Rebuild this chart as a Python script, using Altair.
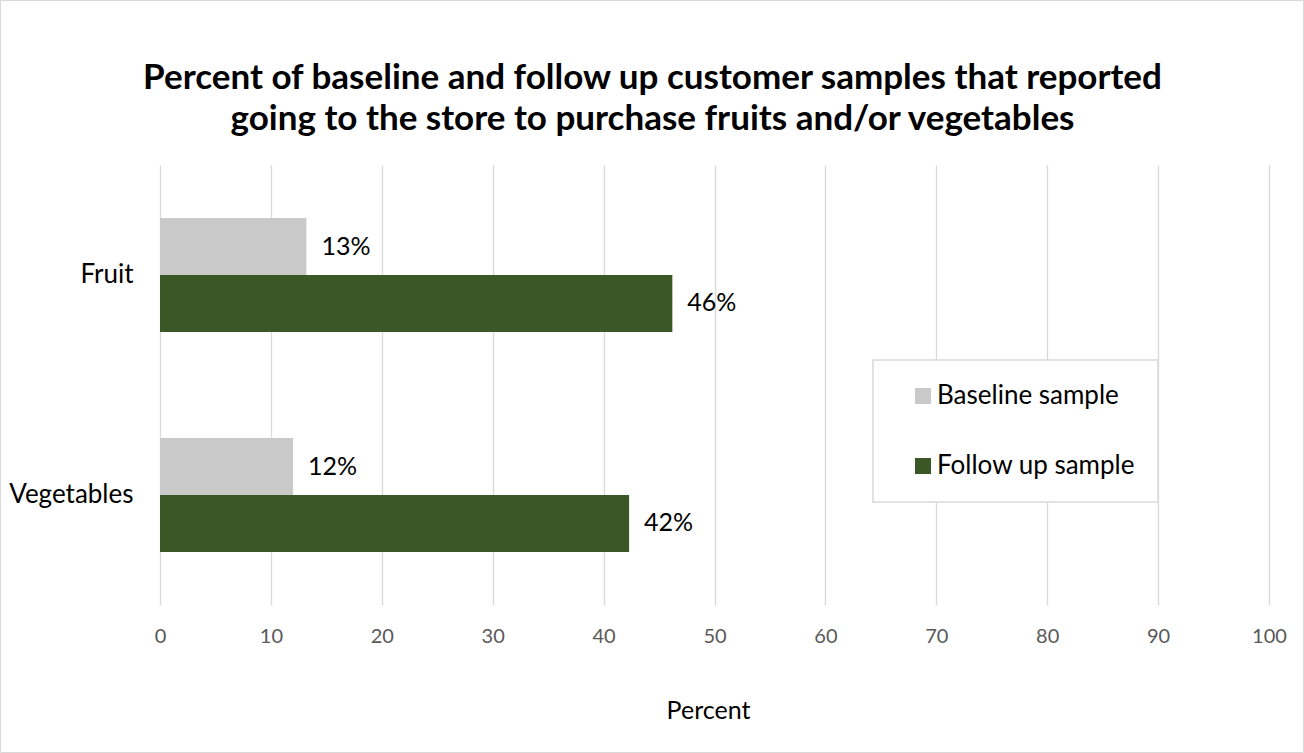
import altair as alt
import pandas as pd

FONT = "Lato"

categories = ["Fruit", "Vegetables"]
series = ["Baseline sample", "Follow up sample"]
baseline = [13.2, 12.0]
follow_up = [46.2, 42.3]
labels_base = ["13%", "12%"]
labels_follow = ["46%", "42%"]
x_ticks = [0, 10, 20, 30, 40, 50, 60, 70, 80, 90, 100]
colors = ["#c9c9c9", "#3b5725"]
title_lines = [
    "Percent of baseline and follow up customer samples that reported",
    "going to the store to purchase fruits and/or vegetables",
]

rows = []
for i, c in enumerate(categories):
    rows.append(dict(category=c, series=series[0], value=baseline[i], label=labels_base[i]))
    rows.append(dict(category=c, series=series[1], value=follow_up[i], label=labels_follow[i]))
df = pd.DataFrame(rows)

y = alt.Y(
    "category:N",
    sort=categories,
    scale=alt.Scale(paddingInner=0.482, paddingOuter=0.241),
    axis=alt.Axis(
        title=None, ticks=False, domain=False, grid=False,
        labelPadding=27, labelFontSize=26, labelColor="#000000", labelFont=FONT,
    ),
)
yoff = alt.YOffset("series:N", sort=series, scale=alt.Scale(paddingInner=0, paddingOuter=0))
x = alt.X(
    "value:Q",
    scale=alt.Scale(domain=[0, 100], nice=False),
    axis=alt.Axis(
        values=x_ticks, title="Percent", grid=True, gridColor="#d9d9d9", gridWidth=1.3,
        ticks=False, domain=False, labelPadding=21, labelFontSize=20, labelColor="#595959",
        labelFlush=False, labelFont=FONT, titleFont=FONT, titleFontSize=25,
        titleFontWeight="normal", titleColor="#000000", titlePadding=52, titleX=548,
    ),
)
color = alt.Color(
    "series:N",
    sort=series,
    scale=alt.Scale(domain=series, range=colors),
    legend=alt.Legend(
        title=None, orient="none", legendX=713, legendY=195, padding=23,
        strokeColor="#d9d9d9", fillColor="white",
        symbolType="square", symbolSize=256, symbolStrokeWidth=0, symbolOffset=14,
        labelFontSize=26, labelFont=FONT, labelColor="#000000", labelOffset=1,
        rowPadding=44, labelLimit=400,
    ),
)

base = alt.Chart(df)
bars = base.mark_bar().encode(x=x, y=y, yOffset=yoff, color=color)
texts = base.mark_text(align="left", baseline="middle", dx=15, fontSize=25, font=FONT, color="#000000").encode(
    x=alt.X("value:Q"), y=alt.Y("category:N", sort=categories), yOffset=alt.YOffset("series:N", sort=series), text="label:N"
)
border = alt.Chart(pd.DataFrame({"a": [0]})).mark_rect(fill=None, stroke="#d9d9d9", strokeWidth=1).encode(
    x=alt.value(-159.5), x2=alt.value(1143.5), y=alt.value(-164.5), y2=alt.value(587.5)
)

chart = alt.layer(border, bars, texts).properties(
    width=1109,
    height=440,
    background="white",
    title=alt.TitleParams(
        text=title_lines, fontSize=35, fontWeight="bold", font=FONT, color="#000000",
        anchor="middle", frame="group", dx=-62, offset=-137, lineHeight=41,
    ),
    autosize=alt.AutoSizeParams(type="none"),
    padding={"left": 160, "top": 165, "right": 35, "bottom": 148},
).configure_view(strokeWidth=0, stroke="transparent").configure_legend(strokeWidth=1.5)

chart.save("out.html", embed_options={"renderer": "svg", "actions": False})
